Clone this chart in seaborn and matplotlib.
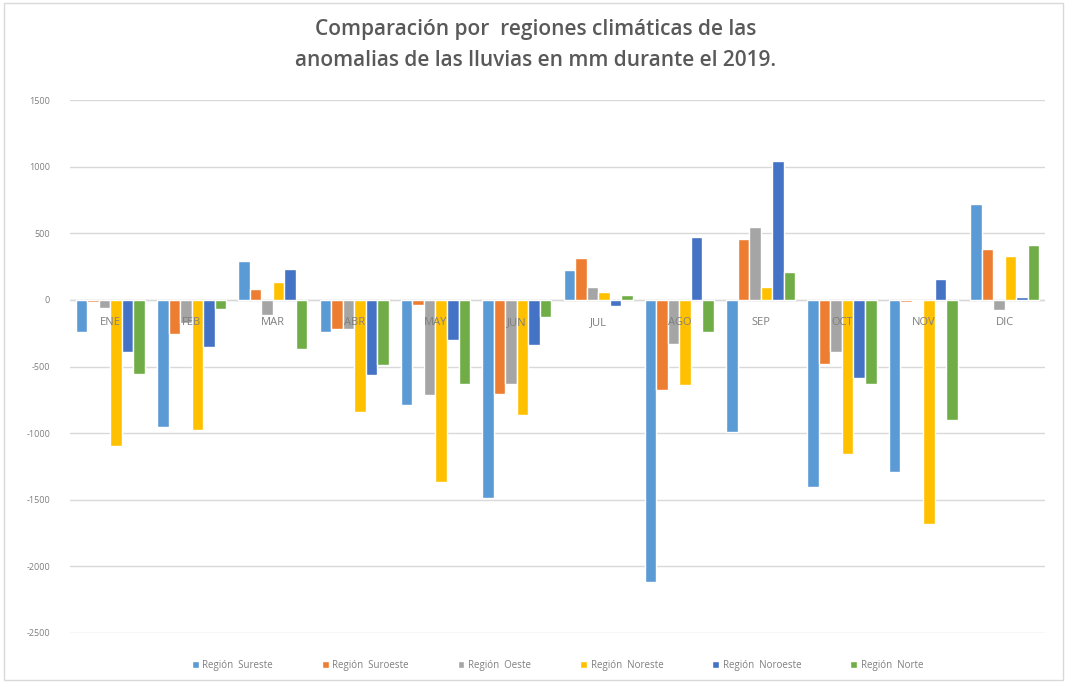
import matplotlib
matplotlib.use("Agg")
import matplotlib.pyplot as plt
import pandas as pd
import seaborn as sns

# ── Data (mm anomalies) ──────────────────────────────────────────────

MONTHS = ["ENE", "FEB", "MAR", "ABR", "MAY", "JUN",
          "JUL", "AGO", "SEP", "OCT", "NOV", "DIC"]

sureste = [-240, -955, 290, -240, -790, -1490, 225, -2120, -990, -1405, -1290, 720]
suroeste = [-15, -255, 85, -215, -40, -705, 315, -675, 460, -480, -15, 385]
oeste = [-60, -170, -115, -220, -715, -630, 100, -330, 550, -390, -10, -75]
noreste = [-1100, -980, 135, -840, -1365, -865, 60, -640, 100, -1155, -1680, 330]
noroeste = [-390, -350, 235, -565, -300, -340, -45, 475, 1045, -590, 160, 25]
norte = [-555, -65, -370, -490, -630, -130, 35, -240, 210, -630, -900, 410]

REGIONS = ["Región  Sureste", "Región  Suroeste", "Región  Oeste",
           "Región  Noreste", "Región  Noroeste", "Región  Norte"]
SERIES = [sureste, suroeste, oeste, noreste, noroeste, norte]

COLORS = ["#5B9BD5", "#ED7D31", "#A5A5A5", "#FFC000", "#4472C4", "#70AD47"]

YTICKS = [1500, 1000, 500, 0, -500, -1000, -1500, -2000, -2500]

df = pd.DataFrame(
    [(m, r, v) for r, vals in zip(REGIONS, SERIES) for m, v in zip(MONTHS, vals)],
    columns=["Mes", "Region", "Anomalia"],
)

# ── Plot ─────────────────────────────────────────────────────────────

sns.set_theme(style="white")
plt.rcParams["font.family"] = ["Open Sans", "DejaVu Sans"]

fig = plt.figure(figsize=(10.72, 6.87), dpi=100)
ax = fig.add_axes([0.065, 0.079, 0.91, 0.775])

sns.barplot(
    data=df, x="Mes", y="Anomalia", hue="Region",
    order=MONTHS, hue_order=REGIONS,
    palette=dict(zip(REGIONS, COLORS)),
    width=0.85, gap=0, saturation=1, ax=ax,
)

ax.set_ylim(-2500, 1500)
ax.set_yticks(YTICKS)
ax.set_yticklabels([str(t) for t in YTICKS], fontsize=6.5, color="#7f7f7f")
ax.yaxis.grid(True, color="#d9d9d9", linewidth=1)
ax.set_axisbelow(True)
ax.tick_params(axis="y", length=0, pad=14)
ax.set_xlim(-0.5, 11.5)

# category labels sit on the zero line, drawn over the bars
ax.set_xticks(range(len(MONTHS)))
ax.set_xticklabels([])
ax.tick_params(axis="x", length=0)
for i, m in enumerate(MONTHS):
    ax.annotate(m, (i, 0), xytext=(0, -16), textcoords="offset points",
                ha="center", va="center", fontsize=8, color="#7f7f7f", zorder=10)

for s in ["top", "right", "left", "bottom"]:
    ax.spines[s].set_visible(False)
ax.axhline(0, color="#d9d9d9", linewidth=1, zorder=0.5)
ax.set_xlabel("")
ax.set_ylabel("")

ax.legend(
    loc="upper center", bbox_to_anchor=(0.5, -0.035), ncol=6,
    frameon=False, fontsize=7, labelcolor="#7f7f7f",
    handlelength=0.7, handleheight=0.7, handletextpad=0.4, columnspacing=5.0,
)

fig.text(0.5, 0.957, "Comparación por  regiones climáticas de las",
         ha="center", va="center", fontsize=15, color="#595959", fontweight="semibold")
fig.text(0.5, 0.912, "anomalias de las lluvias en mm durante el 2019.",
         ha="center", va="center", fontsize=15, color="#595959", fontweight="semibold")

# chart area border
fig.patches.append(plt.Rectangle((0.004, 0.01), 0.988, 0.985, transform=fig.transFigure,
                                 fill=False, edgecolor="#d9d9d9", linewidth=1))

fig.savefig("out.png", dpi=100)
plt.close(fig)
